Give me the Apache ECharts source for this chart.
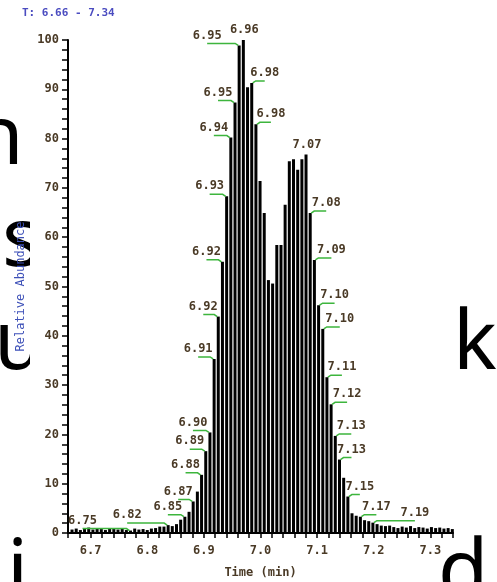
<!DOCTYPE html>
<html>
<head>
<meta charset="utf-8">
<script src="https://cdn.jsdelivr.net/npm/echarts@6/dist/echarts.min.js"></script>
<style>
  html, body { margin: 0; padding: 0; background: #fff; }
  #chart { width: 497px; height: 582px; }
</style>
</head>
<body>
<div id="chart"></div>
<script>
// scan times (min), one per bar
const scanTimes = [
  6.6671, 6.6745, 6.6819, 6.6892, 6.6966, 6.7040, 6.7114, 6.7188, 6.7261, 6.7335,
  6.7409, 6.7483, 6.7557, 6.7631, 6.7704, 6.7778, 6.7852, 6.7926, 6.8000, 6.8073,
  6.8147, 6.8221, 6.8295, 6.8369, 6.8442, 6.8516, 6.8590, 6.8664, 6.8738, 6.8811,
  6.8885, 6.8959, 6.9033, 6.9107, 6.9181, 6.9254, 6.9328, 6.9402, 6.9476, 6.9550,
  6.9623, 6.9697, 6.9771, 6.9845, 6.9919, 6.9992, 7.0066, 7.0140, 7.0214, 7.0288,
  7.0362, 7.0435, 7.0509, 7.0583, 7.0657, 7.0731, 7.0804, 7.0878, 7.0952, 7.1026,
  7.1100, 7.1173, 7.1247, 7.1321, 7.1395, 7.1469, 7.1543, 7.1616, 7.1690, 7.1764,
  7.1838, 7.1912, 7.1985, 7.2059, 7.2133, 7.2207, 7.2281, 7.2354, 7.2428, 7.2502,
  7.2576, 7.2650, 7.2724, 7.2797, 7.2871, 7.2945, 7.3019, 7.3093, 7.3166, 7.3240,
  7.3314, 7.3388
];

// relative abundance (%) per scan
const abundance = [
  0.7, 0.9, 0.6, 0.8, 1.1, 0.7, 0.9, 0.8, 0.6, 0.9,
  0.8, 0.7, 0.9, 0.6, 0.5, 0.9, 0.7, 0.8, 0.6, 0.9,
  1.0, 1.3, 1.3, 1.6, 1.4, 1.8, 2.7, 3.3, 4.3, 6.4,
  8.4, 11.8, 16.6, 20.4, 35.3, 43.9, 55.0, 68.3, 80.2, 87.3,
  98.9, 100, 90.4, 91.3, 82.9, 71.4, 64.9, 51.3, 50.6, 58.4,
  58.4, 66.6, 75.4, 75.8, 73.7, 75.8, 76.8, 64.9, 55.4, 46.2,
  41.4, 31.6, 26.1, 19.7, 14.9, 11.2, 7.4, 4.0, 3.5, 3.3,
  2.6, 2.4, 2.1, 1.8, 1.5, 1.4, 1.5, 1.2, 1.0, 1.3,
  1.1, 1.4, 1.0, 1.2, 1.1, 0.9, 1.2, 1.0, 1.1, 0.9,
  1.0, 0.8
];

// axis labels
const timeLabels = [6.7, 6.8, 6.9, 7.0, 7.1, 7.2, 7.3];

// peak annotations: text and the scan they point at
const peakLabels = [
  '6.75', '6.82', '6.85', '6.87', '6.88', '6.89', '6.90', '6.91', '6.92', '6.92',
  '6.93', '6.94', '6.95', '6.95', '6.96', '6.98', '6.98', '7.07', '7.08', '7.09',
  '7.10', '7.10', '7.11', '7.12', '7.13', '7.13', '7.15', '7.17', '7.19'
];
const peakLabelScan = [
  14, 23, 27, 29, 31, 32, 33, 34, 35, 36,
  37, 38, 39, 40, 41, 43, 44, 56, 57, 58,
  59, 60, 61, 62, 63, 64, 66, 69, 72
];

// horizontal offset (px) of each annotation from its bar; 0 = right above
const labelDx = [
  -48, -41, -17, -15, -16, -16, -17, -16, -15, -16,
  -17, -17, -17, -32, 0, 13, 15, 0, 16, 17,
  16, 17, 15, 16, 16, 12, 12, 16, 42
];

const ink = '#4a3a26';
const mono = '"DejaVu Sans Mono", monospace';
const green = '#3db53d';

// minor ticks on the time axis every 0.02 min
const timeTicks = [];
for (let i = 0; i <= 34; i++) timeTicks.push(+(6.66 + i * 0.02).toFixed(2));

const chart = echarts.init(document.getElementById('chart'));

// big letters from the page behind the chart
const bigFont = '82px "Noto Sans"';
const letters = [
  { t: 'n', x: -27, y: 141 },
  { t: 's', x: 2, y: 243 },
  { t: 'u', x: -6, y: 346 },
  { t: 'k', x: 453, y: 346 },
  { t: 'i', x: 7, y: 575 },
  { t: 'd', x: 438, y: 575 },
];

const option = {
  animation: false,
  backgroundColor: '#fff',
  grid: { left: 68, right: 44, top: 40, bottom: 49, outerBoundsMode: 'none' },
  graphic: {
    elements: [
      ...letters.map((l) => ({
        type: 'text', x: l.x, y: l.y, z: 0,
        style: { text: l.t, font: bigFont, fill: '#000', verticalAlign: 'middle' },
      })),
      {
        type: 'rect', z: 1,
        shape: { x: 30, y: 0, width: 410, height: 582 },
        style: { fill: '#fff' },
      },
      {
        type: 'text', x: 22, y: 13, z: 10,
        style: {
          text: 'T: 6.66 - 7.34', font: 'bold 11px ' + mono,
          fill: '#4b4cc0', verticalAlign: 'middle',
        },
      },
    ],
  },
  xAxis: {
    type: 'value',
    min: 6.66,
    max: 7.34,
    z: 3,
    name: 'Time (min)',
    nameLocation: 'middle',
    nameGap: 34,
    nameTextStyle: { color: ink, fontFamily: mono, fontWeight: 'bold', fontSize: 12 },
    axisLine: { show: true, onZero: false, lineStyle: { color: '#000', width: 2 } },
    axisTick: { show: true, length: 5, customValues: timeTicks, lineStyle: { color: '#000', width: 1.5 } },
    axisLabel: {
      customValues: timeLabels,
      formatter: (v) => v.toFixed(1),
      margin: 12,
      color: ink, fontFamily: mono, fontWeight: 'bold', fontSize: 12,
    },
    splitLine: { show: false },
  },
  yAxis: {
    type: 'value',
    min: 0,
    max: 100,
    interval: 10,
    z: 3,
    name: 'Relative Abundance',
    nameLocation: 'middle',
    nameGap: 37,
    nameRotate: 90,
    nameTextStyle: { color: '#3d50b8', fontFamily: mono, fontSize: 12 },
    axisLine: { show: true, lineStyle: { color: '#000', width: 2 } },
    axisTick: { show: true, length: 6, lineStyle: { color: '#000', width: 1.5 } },
    minorTick: { show: true, splitNumber: 5, length: 6, lineStyle: { color: '#000', width: 1.5 } },
    axisLabel: { margin: 9, color: ink, fontFamily: mono, fontWeight: 'bold', fontSize: 12 },
    splitLine: { show: false },
    minorSplitLine: { show: false },
  },
  series: [
    {
      type: 'bar',
      z: 4,
      barWidth: 3,
      itemStyle: { color: '#000' },
      data: scanTimes.map((t, i) => [t, abundance[i]]),
    },
    {
      type: 'custom',
      z: 5,
      clip: false,
      data: peakLabelScan.map((k, i) => [scanTimes[k], abundance[k], i]),
      renderItem: (params, api) => {
        const i = api.value(2);
        const top = api.coord([api.value(0), api.value(1)]);
        const bx = top[0];
        const by = top[1];
        const dx = labelDx[i];
        const font = 'bold 12px ' + mono;
        if (dx === 0) {
          return {
            type: 'text',
            style: { text: peakLabels[i], x: bx + 1, y: by - 10, font, fill: ink, align: 'center', verticalAlign: 'middle' },
          };
        }
        const side = dx < 0 ? -1 : 1;
        const cx = bx + dx;
        const ly = by - 2;
        return {
          type: 'group',
          children: [
            {
              type: 'polyline',
              shape: { points: [[cx, ly], [bx + side * 4, ly], [bx + side * 1, by]] },
              style: { stroke: green, lineWidth: 1.5, fill: null },
            },
            {
              type: 'text',
              style: { text: peakLabels[i], x: cx, y: ly - 8, font, fill: ink, align: 'center', verticalAlign: 'middle' },
            },
          ],
        };
      },
    },
  ],
};

chart.setOption(option);
</script>
</body>
</html>
